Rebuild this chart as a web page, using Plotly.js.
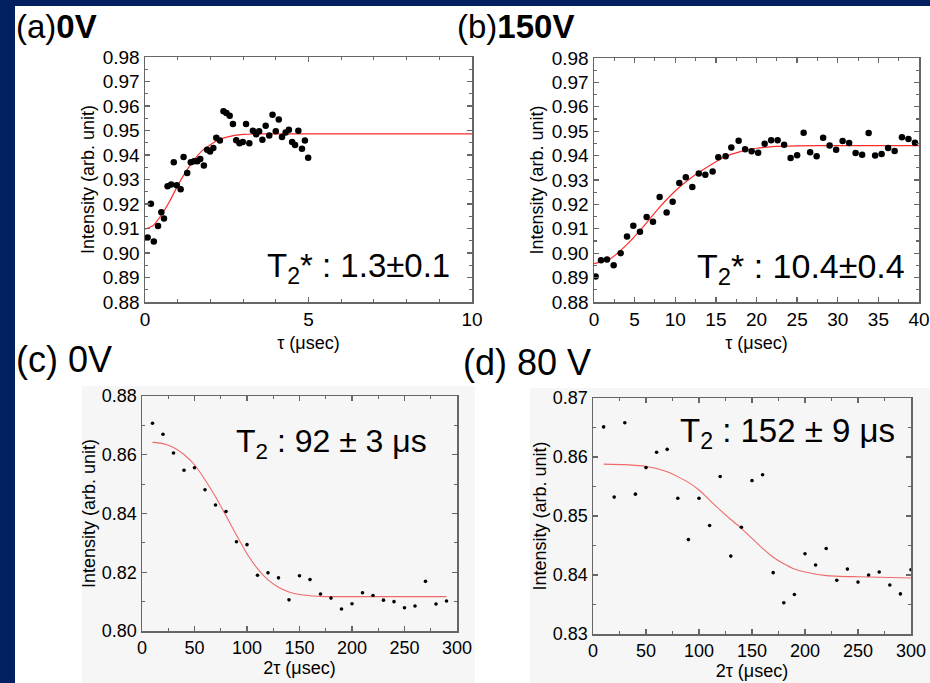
<!DOCTYPE html>
<html>
<head>
<meta charset="utf-8">
<script src="https://cdn.plot.ly/plotly-3.0.1.min.js"></script>
<style>html,body{margin:0;padding:0;background:#fff;}#chart{width:930px;height:683px;}</style>
</head>
<body>
<div id="chart"></div>
<script>
// ---- Panel (a) 0V : free induction (T2*) ----
const aTau = [0.08,0.18,0.27,0.40,0.50,0.58,0.69,0.80,0.88,0.97,1.09,1.18,1.29,1.40,1.50,1.60,1.69,1.80,1.90,1.99,2.09,2.18,2.29,2.40,2.49,2.59,2.69,2.79,2.89,2.99,3.09,3.19,3.30,3.40,3.49,3.59,3.69,3.80,3.90,4.00,4.09,4.19,4.30,4.40,4.50,4.59,4.69,4.80,4.89,4.99];
const aInt = [0.9063,0.9201,0.9047,0.9110,0.9166,0.9141,0.9272,0.9280,0.9370,0.9277,0.9260,0.9392,0.9327,0.9370,0.9374,0.9374,0.9384,0.9357,0.9421,0.9414,0.9429,0.9470,0.9459,0.9579,0.9571,0.9560,0.9527,0.9460,0.9448,0.9453,0.9527,0.9448,0.9499,0.9485,0.9497,0.9462,0.9519,0.9480,0.9564,0.9497,0.9545,0.9473,0.9492,0.9503,0.9453,0.9441,0.9499,0.9426,0.9459,0.9389];
const aFitTau = [0,0.25,0.5,0.75,1,1.25,1.5,1.75,2,2.25,2.5,3,3.5,4,5,10];
const aFitInt = [0.9097,0.9112,0.9155,0.9210,0.9275,0.9332,0.9380,0.9418,0.9442,0.9462,0.9473,0.9484,0.9486,0.9486,0.9486,0.9486];

// ---- Panel (b) 150V ----
const bTau = [0.2,0.86,1.6,2.42,3.28,4.06,4.84,5.66,6.48,7.26,8.08,8.94,9.68,10.5,11.3,12.1,12.9,13.7,14.6,15.3,16.2,16.9,17.8,18.6,19.4,20.2,21.0,21.8,22.6,23.4,24.2,25.0,25.8,26.6,27.4,28.2,29.0,29.8,30.6,31.4,32.2,33.0,33.8,34.6,35.4,36.2,37.0,37.9,38.7,39.5];
const bInt = [0.8905,0.8971,0.8974,0.8951,0.9000,0.9068,0.9113,0.9088,0.9148,0.9129,0.9230,0.9167,0.9211,0.9288,0.9311,0.9271,0.9327,0.9322,0.9335,0.9393,0.9397,0.9433,0.9461,0.9426,0.9418,0.9412,0.9449,0.9463,0.9463,0.9444,0.9390,0.9401,0.9494,0.9414,0.9397,0.9473,0.9441,0.9424,0.9460,0.9452,0.9411,0.9403,0.9493,0.9400,0.9407,0.9431,0.9419,0.9475,0.9468,0.9453];
const bFitTau = [0,2,4,6,8,10,12,14,16,18,20,22,25,30,40];
const bFitInt = [0.8957,0.8977,0.9034,0.9106,0.9186,0.9255,0.9310,0.9354,0.9393,0.9416,0.9430,0.9437,0.9440,0.9441,0.9441];

// ---- Panel (c) 0V : spin echo (T2) ----
const cTau2 = [10,20,30,40,50,60,70,80,90,100,110,120,130,140,150,160,170,180,190,200,210,220,230,240,250,260,270,280,290];
const cInt = [0.8707,0.8670,0.8606,0.8547,0.8556,0.8481,0.8429,0.8407,0.8304,0.8294,0.8190,0.8198,0.8181,0.8106,0.8188,0.8175,0.8126,0.8112,0.8075,0.8093,0.8130,0.8121,0.8105,0.8100,0.8079,0.8085,0.8169,0.8092,0.8102];
const cFitTau2 = [10,20,30,40,50,60,70,80,90,100,110,120,130,140,150,160,170,180,200,240,290];
const cFitInt = [0.8642,0.8638,0.8625,0.8601,0.8566,0.8515,0.8457,0.8392,0.8326,0.8263,0.8212,0.8174,0.8149,0.8133,0.8124,0.8120,0.8118,0.8117,0.8117,0.8117,0.8117];

// ---- Panel (d) 80 V ----
const dTau2 = [10,20,30,40,50,60,70,80,90,100,110,120,130,140,150,160,170,180,190,200,210,220,230,240,250,260,270,280,290,300];
const dInt = [0.8651,0.8532,0.8658,0.8537,0.8582,0.8608,0.8613,0.8530,0.8460,0.8530,0.8484,0.8567,0.8432,0.8481,0.8560,0.8570,0.8404,0.8353,0.8367,0.8436,0.8417,0.8445,0.8391,0.8410,0.8388,0.8400,0.8405,0.8383,0.8368,0.8409];
const dFitTau2 = [10,30,50,70,90,100,110,120,130,140,150,160,170,180,190,200,220,250,300];
const dFitInt = [0.8588,0.8587,0.8584,0.8575,0.8557,0.8544,0.8527,0.8510,0.8494,0.8479,0.8462,0.8445,0.8430,0.8419,0.8410,0.8405,0.8399,0.8397,0.8395];

// ---- text ----
const panelLabels = ["(a)<b>0V</b>", "(b)<b>150V</b>", "(c) 0V", "(d) 80 V"];
const fitLabels = ["T<sub>2</sub>* : 1.3±0.1", "T<sub>2</sub>* : 10.4±0.4", "T<sub>2</sub> : 92 ± 3 μs", "T<sub>2</sub> : 152 ± 9 μs"];
const yTitle = "Intensity (arb. unit)";
const xTitleFID = "τ (μsec)";
const xTitleEcho = "2τ (μsec)";

const W = 930, H = 683;
const px = v => v / W;
const py = v => 1 - v / H;
const FONT = "Liberation Sans, Arial, sans-serif";
const navy = "#021f5f";
const frame = "#666666";

function dots(x, y, xa, ya, size) {
  return {x: x, y: y, xaxis: xa, yaxis: ya, type: "scatter", mode: "markers",
    marker: {color: "#000", size: size}, showlegend: false, hoverinfo: "x+y"};
}
function fit(x, y, xa, ya, color, w) {
  return {x: x, y: y, xaxis: xa, yaxis: ya, type: "scatter", mode: "lines",
    line: {color: color, width: w, shape: "spline", smoothing: 0.6}, showlegend: false, hoverinfo: "skip"};
}

const traces = [
  fit(aFitTau, aFitInt, "x", "y", "#ff2a2a", 1.2),
  dots(aTau, aInt, "x", "y", 6.5),
  fit(bFitTau, bFitInt, "x2", "y2", "#ff2a2a", 1.2),
  dots(bTau, bInt, "x2", "y2", 6.5),
  fit(cFitTau2, cFitInt, "x3", "y3", "#f06a6a", 1.1),
  dots(cTau2, cInt, "x3", "y3", 3.6),
  fit(dFitTau2, dFitInt, "x4", "y4", "#f06a6a", 1.1),
  dots(dTau2, dInt, "x4", "y4", 3.6)
];

function axis(anchor, domain, range, dtick, minorDtick, title, standoff, fmt, tsize) {
  const a = {
    anchor: anchor,
    domain: domain, range: range, dtick: dtick, tick0: 0,
    showgrid: false, zeroline: false, showline: true, mirror: "ticks",
    linecolor: frame, linewidth: 1.5,
    ticks: "inside", ticklen: 5, tickwidth: 1.3, tickcolor: frame,
    minor: {ticks: "inside", ticklen: 3, tickwidth: 1.1, tickcolor: frame, dtick: minorDtick, showgrid: false},
    tickfont: {family: FONT, size: tsize, color: "#000"},
    title: {text: title, font: {family: FONT, size: 18, color: "#000"}, standoff: standoff},
    fixedrange: true
  };
  if (fmt) a.tickformat = fmt;
  return a;
}

const layout = {
  width: W, height: H,
  margin: {l: 0, r: 0, t: 0, b: 0},
  paper_bgcolor: "#ffffff",
  plot_bgcolor: "rgba(0,0,0,0)",
  showlegend: false,
  xaxis:  axis("y",  [px(145), px(472)], [0, 10], 5, 1, xTitleFID, 7, null, 19),
  yaxis:  axis("x",  [py(302), py(57)], [0.88, 0.98], 0.01, 0.005, yTitle, 3, ".2f", 19),
  xaxis2: axis("y2", [px(594), px(919)], [0, 40], 5, 2.5, xTitleFID, 7, null, 19),
  yaxis2: axis("x2", [py(302), py(58)], [0.88, 0.98], 0.01, 0.005, yTitle, 3, ".2f", 19),
  xaxis3: axis("y3", [px(142), px(457)], [0, 300], 50, 25, xTitleEcho, 4, null, 18),
  yaxis3: axis("x3", [py(631), py(396)], [0.80, 0.88], 0.02, 0.01, yTitle, 1, ".2f", 18),
  xaxis4: axis("y4", [px(593), px(911)], [0, 300], 50, 25, xTitleEcho, 4, null, 18),
  yaxis4: axis("x4", [py(634), py(398)], [0.83, 0.87], 0.01, 0.005, yTitle, 1, ".2f", 18),
  shapes: [
    {type: "rect", xref: "paper", yref: "paper", x0: 0, x1: 1, y0: py(6), y1: 1, fillcolor: navy, line: {width: 0}, layer: "below"},
    {type: "rect", xref: "paper", yref: "paper", x0: 0, x1: px(15), y0: 0, y1: 1, fillcolor: navy, line: {width: 0}, layer: "below"},
    {type: "rect", xref: "paper", yref: "paper", x0: px(82), x1: px(475), y0: 0, y1: py(386), fillcolor: "#f6f6f6", line: {width: 0}, layer: "below"},
    {type: "rect", xref: "paper", yref: "paper", x0: px(530), x1: 1, y0: 0, y1: py(388), fillcolor: "#f6f6f6", line: {width: 0}, layer: "below"}
  ],
  annotations: [
    {text: panelLabels[0], xref: "paper", yref: "paper", x: px(14), y: py(26), xanchor: "left", yanchor: "middle", showarrow: false, font: {family: FONT, size: 33, color: "#000"}},
    {text: panelLabels[1], xref: "paper", yref: "paper", x: px(455), y: py(26), xanchor: "left", yanchor: "middle", showarrow: false, font: {family: FONT, size: 33, color: "#000"}},
    {text: panelLabels[2], xref: "paper", yref: "paper", x: px(14), y: py(359), xanchor: "left", yanchor: "middle", showarrow: false, font: {family: FONT, size: 36, color: "#000"}},
    {text: panelLabels[3], xref: "paper", yref: "paper", x: px(461), y: py(362), xanchor: "left", yanchor: "middle", showarrow: false, font: {family: FONT, size: 36, color: "#000"}},
    {text: fitLabels[0], xref: "paper", yref: "paper", x: px(452), y: py(268), xanchor: "right", yanchor: "middle", showarrow: false, font: {family: FONT, size: 33, color: "#000"}},
    {text: fitLabels[1], xref: "paper", yref: "paper", x: px(907), y: py(268), xanchor: "right", yanchor: "middle", showarrow: false, font: {family: FONT, size: 34, color: "#000"}},
    {text: fitLabels[2], xref: "paper", yref: "paper", x: px(429), y: py(443), xanchor: "right", yanchor: "middle", showarrow: false, font: {family: FONT, size: 32, color: "#000"}},
    {text: fitLabels[3], xref: "paper", yref: "paper", x: px(897), y: py(433), xanchor: "right", yanchor: "middle", showarrow: false, font: {family: FONT, size: 33, color: "#000"}}
  ]
};

Plotly.newPlot("chart", traces, layout, {displayModeBar: false, staticPlot: true});
</script>
</body>
</html>
